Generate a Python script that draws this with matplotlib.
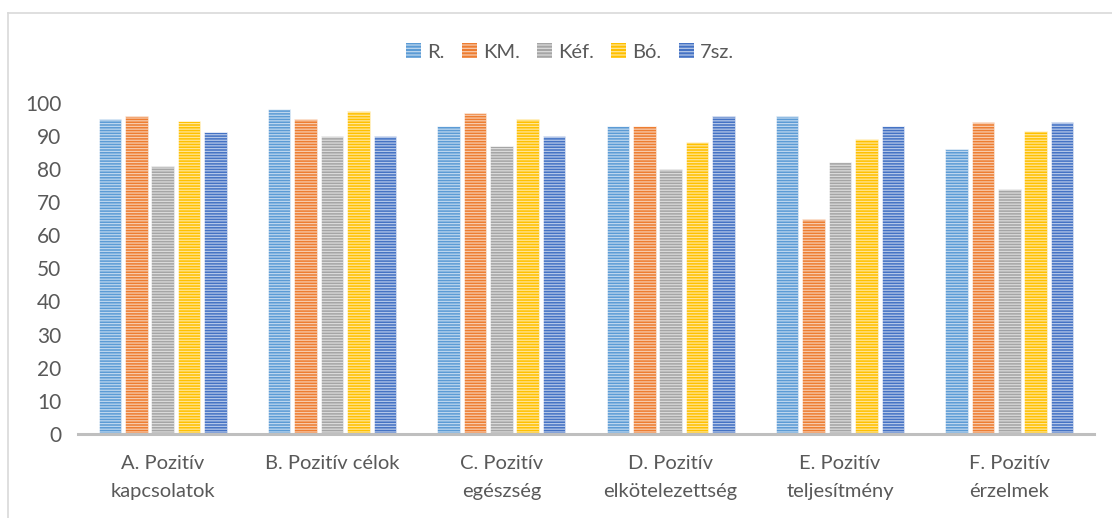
import matplotlib
matplotlib.use("Agg")
import matplotlib.pyplot as plt
from matplotlib.patches import Patch
from matplotlib.lines import Line2D
import numpy as np

categories = ["A. Pozitív\nkapcsolatok", "B. Pozitív célok", "C. Pozitív\negészség",
              "D. Pozitív\nelkötelezettség", "E. Pozitív\nteljesítmény", "F. Pozitív\nérzelmek"]
series_names = ["R.", "KM.", "Kéf.", "Bó.", "7sz."]
r_vals = [95, 98, 93, 93, 96, 86]
km_vals = [96, 95, 97, 93, 65, 94]
kef_vals = [81, 90, 87, 80, 82, 74]
bo_vals = [94.5, 97.5, 95, 88, 89, 91.5]
sz7_vals = [91, 90, 90, 96, 93, 94]
colors = ["#5B9BD5", "#ED7D31", "#A5A5A5", "#FFC000", "#4472C4"]
yticks = [0, 10, 20, 30, 40, 50, 60, 70, 80, 90, 100]

plt.rcParams["font.family"] = ["Lato", "DejaVu Sans"]
plt.rcParams["hatch.linewidth"] = 0.9

W, H = 1112, 518
fig = plt.figure(figsize=(W / 100, H / 100), dpi=100)
fig.patch.set_facecolor("white")

ax = fig.add_axes([78 / W, (H - 434) / H, (1094 - 78) / W, (434 - 102.6) / H])

x = np.arange(len(categories))
slot = 0.156
bw = 0.133
all_vals = [r_vals, km_vals, kef_vals, bo_vals, sz7_vals]
stripe = (1, 1, 1, 0.6)
for i, (vals, c) in enumerate(zip(all_vals, colors)):
    pos = x + (i - 2) * slot
    ax.bar(pos, vals, width=bw, color=c, edgecolor=(1, 1, 1, 0.6), linewidth=0.6, zorder=2)
    ax.bar(pos, vals, width=bw, facecolor="none", edgecolor=stripe, hatch="------",
           linewidth=0, zorder=3)

ax.set_xlim(-0.5, len(categories) - 0.5)
ax.set_ylim(0, 100)
ax.set_yticks(yticks)
ax.set_xticks(x)
ax.set_xticklabels(categories, linespacing=1.8, fontsize=14.5)
for s in ["top", "right", "left"]:
    ax.spines[s].set_visible(False)
ax.spines["bottom"].set_color("#BFBFBF")
ax.spines["bottom"].set_linewidth(2.2)
ax.spines["bottom"].set_zorder(4)
ax.tick_params(axis="both", length=0, labelcolor="#595959")
ax.tick_params(axis="y", pad=12, labelsize=15)
ax.tick_params(axis="x", pad=15)

# Legend across the top
handles = [Patch(facecolor=c, edgecolor=stripe, hatch="-----", linewidth=0) for c in colors]
fig.legend(handles, series_names, loc="center", bbox_to_anchor=(570 / W, 1 - 52 / H),
           ncol=5, frameon=False, fontsize=14.5, labelcolor="#595959",
           handlelength=0.75, handleheight=0.75, handletextpad=0.3, columnspacing=0.85)

# Chart area border (left and top edges)
fig.add_artist(Line2D([8 / W, 8 / W], [0, 1 - 13 / H], transform=fig.transFigure,
                      color="#D9D9D9", linewidth=1.2))
fig.add_artist(Line2D([8 / W, 1], [1 - 13 / H, 1 - 13 / H], transform=fig.transFigure,
                      color="#D9D9D9", linewidth=1.2))

fig.savefig("out.png", dpi=100, facecolor="white")
